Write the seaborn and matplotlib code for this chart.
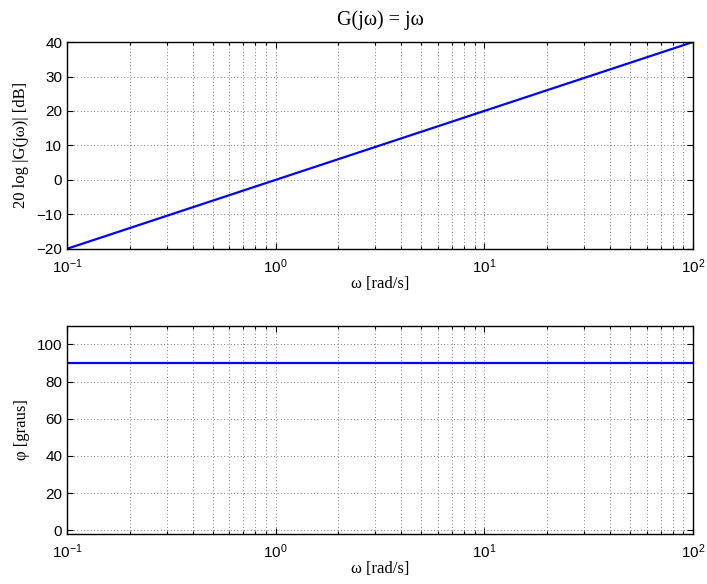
import numpy as np
import pandas as pd
import seaborn as sns
import matplotlib
matplotlib.use("Agg")
import matplotlib.pyplot as plt
from matplotlib.ticker import LogLocator, NullFormatter, MultipleLocator

# values
omega = [0.1, 1.0, 10.0, 100.0]          # rad/s
mag_db = [-20.0, 0.0, 20.0, 40.0]        # 20 log |G(jw)|
phase_deg = [90.0, 90.0, 90.0, 90.0]     # graus

df = pd.DataFrame({"omega": omega, "mag": mag_db, "phase": phase_deg})

sns.set_style("ticks")
plt.rcParams['font.family'] = ['Liberation Sans', 'DejaVu Sans']
plt.rcParams['font.stretch'] = 'normal'
plt.rcParams['mathtext.fontset'] = 'custom'
plt.rcParams['mathtext.rm'] = 'Liberation Sans'
plt.rcParams['xtick.direction'] = 'in'
plt.rcParams['ytick.direction'] = 'in'
plt.rcParams['axes.unicode_minus'] = True
for k in ['text.color', 'axes.labelcolor', 'xtick.color', 'ytick.color', 'axes.edgecolor']:
    plt.rcParams[k] = 'black'

serif = ['Liberation Serif', 'DejaVu Serif']

fig = plt.figure(figsize=(7.07, 5.84), dpi=100)
ax1 = fig.add_axes([0.0948, 0.574, 0.8852, 0.354])
ax2 = fig.add_axes([0.0948, 0.0856, 0.8852, 0.3564])


def style_axis(ax):
    ax.set_xscale('log')
    ax.set_xlim(0.1, 100)
    ax.xaxis.set_major_locator(LogLocator(base=10))
    ax.xaxis.set_minor_locator(LogLocator(base=10, subs=np.arange(2, 10)))
    ax.xaxis.set_minor_formatter(NullFormatter())
    ax.grid(True, which='major', axis='both', linestyle=(0, (1, 3)), color='#555555', linewidth=0.6)
    ax.grid(True, which='minor', axis='x', linestyle=(0, (1, 3)), color='#555555', linewidth=0.6)
    ax.tick_params(which='both', top=True, right=True, labelsize=11, length=4, width=0.8)
    ax.tick_params(axis='x', pad=6)
    ax.tick_params(which='minor', length=2.5)
    for s in ax.spines.values():
        s.set_linewidth(1.0)
    ax.set_xlabel('ω [rad/s]', family=serif, fontsize=12, labelpad=0)


sns.lineplot(data=df, x="omega", y="mag", ax=ax1, color='#0000ff', linewidth=1.6)
style_axis(ax1)
ax1.set_ylim(-20, 40)
ax1.yaxis.set_major_locator(MultipleLocator(10))
ax1.set_ylabel('20 log |G(jω)| [dB]', family=serif, fontsize=12, labelpad=5)
ax1.set_title('G(jω) = jω', family=serif, fontsize=14.5, pad=12)

sns.lineplot(data=df, x="omega", y="phase", ax=ax2, color='#0000ff', linewidth=1.6)
style_axis(ax2)
ax2.set_ylim(-2, 110)
ax2.yaxis.set_major_locator(MultipleLocator(20))
ax2.set_ylabel('φ [graus]', family=serif, fontsize=12, labelpad=5)

fig.savefig('out.png', dpi=100)
